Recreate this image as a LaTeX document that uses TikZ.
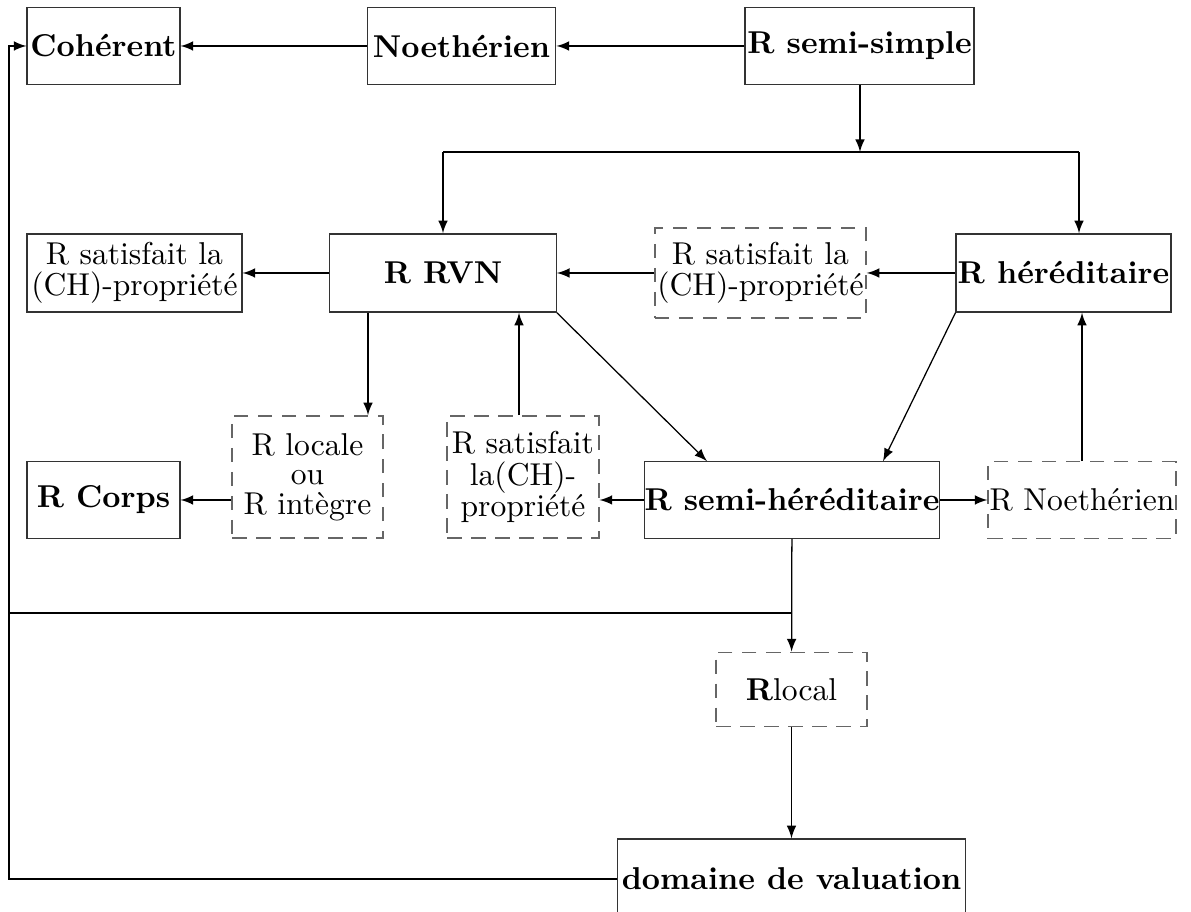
\documentclass[tikz,border=0pt]{standalone}
\usepackage{fontspec}
\usetikzlibrary{arrows}

\tikzset{
  boite/.style={draw=black!80, inner sep=0pt, align=center, font=\bfseries},
  boitep/.style={dash pattern=on 4.6pt off 3pt, draw=black!60, inner sep=0pt, align=center},
}

\begin{document}
\begin{tikzpicture}[x=0.3166pt, y=-0.3166pt, >=latex]
				\useasboundingbox (0,0) rectangle (1191,912);
				% Ligne du haut
				\node[boite, minimum width=1.70cm, minimum height=0.85cm] (coh) at (103.5,46) {Cohérent};
				\node[boite, minimum width=2.10cm, minimum height=0.85cm] (noeth) at (461.5,46) {Noethérien};
				\node[boite, minimum width=2.55cm, minimum height=0.85cm] (ssimple) at (859.5,46) {R semi-simple};
				
				% Deuxième ligne
				\node[draw=black!80, inner sep=0pt, align=center, minimum width=2.39cm, minimum height=0.87cm] (ch) at (134.5,273) {R satisfait la\\[-2pt](CH)-propriété};
				\node[boite, minimum width=2.52cm, minimum height=0.87cm] (rvn) at (443,273) {R RVN};
				\node[boitep, minimum width=2.35cm, minimum height=1.00cm] (chp) at (760.5,273) {R satisfait la\\[-2pt](CH)-propriété};
				\node[boite, minimum width=2.39cm, minimum height=0.87cm] (hered) at (1063.5,273) {R héréditaire};
				
				% Troisième ligne
				\node[boite, minimum width=1.70cm, minimum height=0.85cm] (corps) at (103.5,500) {R Corps};
				\node[boitep, minimum width=1.68cm, minimum height=1.36cm] (locale) at (307.5,477) {R locale\\[-2.6pt]ou\\[-2.6pt]R intègre};
				\node[boitep, minimum width=1.69cm, minimum height=1.36cm] (chq) at (523,477) {R satisfait\\[-2pt]la(CH)-\\[-2pt]propriété};
				\node[boite, minimum width=3.23cm, minimum height=0.85cm] (shered) at (792,500) {R semi-héréditaire};
				\node[boitep, minimum width=2.09cm, minimum height=0.85cm] (noethp) at (1082,500) {R Noethérien};
				
				% Bas
				\node[boitep, minimum width=1.68cm, minimum height=0.83cm] (rlocal) at (791.5,689.5) {{\bfseries R}local};
				\node[boite, minimum width=3.88cm, minimum height=0.89cm] (dom) at (791.5,879) {domaine de valuation};
				
				% Points de passage
				\coordinate (bus) at (860,152);
				\coordinate (busg) at (443,152);
				\coordinate (busd) at (1079,152);
				\coordinate (xa) at (368,0);
				\coordinate (xb) at (519,0);
				\coordinate (xc) at (707,0);
				\coordinate (xd) at (883,0);
				\coordinate (gauche) at (9,613);
				
				% Flèches
				\draw[->] (noeth) -- (coh);
				\draw[->] (ssimple) -- (noeth);
				\draw[->] (ssimple.south -| bus) -- (bus);
				\draw (busg) -- (busd);
				\draw[->] (busg) -- (busg |- rvn.north);
				\draw[->] (busd) -- (busd |- hered.north);
				\draw[->] (rvn) -- (ch);
				\draw[->] (chp) -- (rvn);
				\draw[->] (hered) -- (chp);
				\draw[->] (rvn.south -| xa) -- (locale.north -| xa);
				\draw[->] (chq.north -| xb) -- (rvn.south -| xb);
				\draw[->] (rvn.south east) -- (shered.north -| xc);
				\draw[->] (hered.south west) -- (shered.north -| xd);
				\draw[->] (locale.west |- corps.east) -- (corps.east);
				\draw[->] (shered.west) -- (chq.east |- shered.west);
				\draw[->] (shered) -- (noethp);
				\draw[->] (noethp.north) -- (noethp.north |- hered.south);
				\draw[->] (shered) -- (rlocal);
				\draw (shered.south |- gauche) -- (gauche);
				\draw[->] (rlocal) -- (dom);
				\draw[->] (dom.west) -- (dom.west -| gauche) |- (coh.west);
			\end{tikzpicture}
\end{document}
